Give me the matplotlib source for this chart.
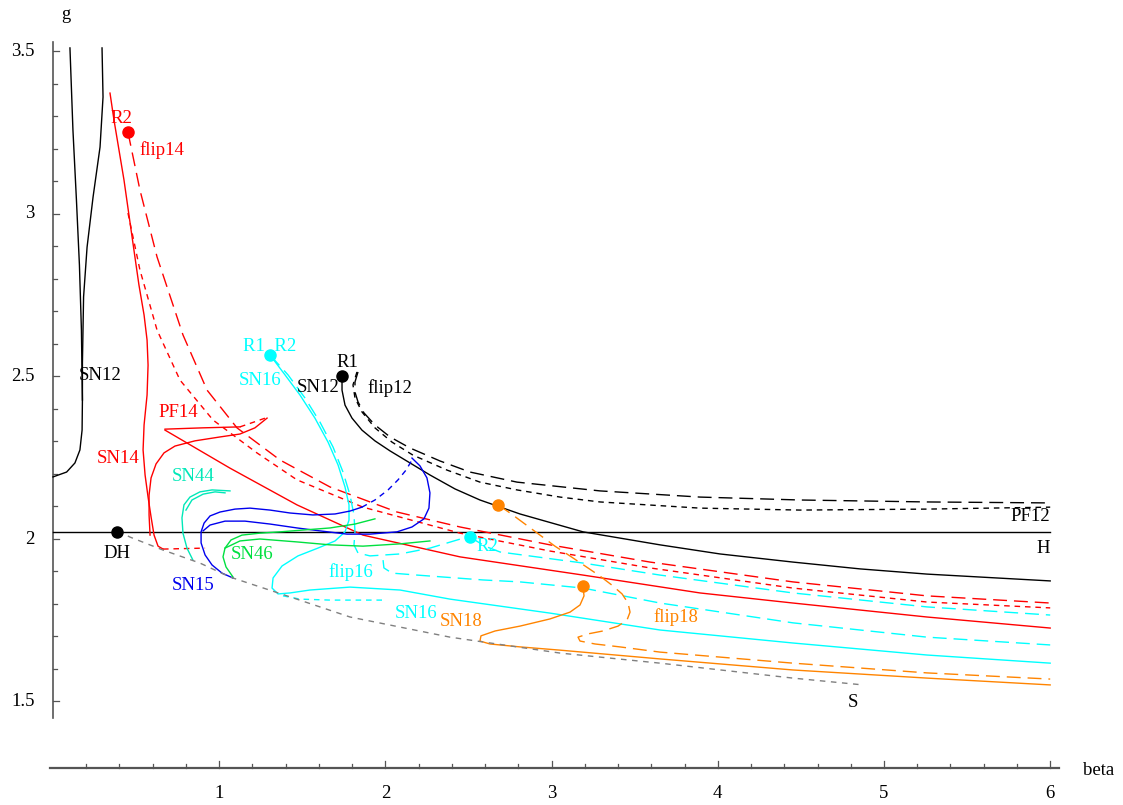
import matplotlib.pyplot as plt
import numpy as np

plt.rcParams['font.family'] = ['Liberation Serif', 'DejaVu Serif']

# Axis layout (beta horizontally, g vertically)
beta_ticks = [1, 2, 3, 4, 5, 6]
g_ticks = [1.5, 2.0, 2.5, 3.0, 3.5]
g_tick_labels = ["1.5", "2", "2.5", "3", "3.5"]
x_axis_level = 1.295
h_level = 2.02

# Bifurcation curves as (beta, g) pairs
sn12_left = [(0.102, 3.511), (0.120, 3.258), (0.141, 3.043), (0.159, 2.843),
             (0.171, 2.643), (0.177, 2.428), (0.175, 2.335), (0.162, 2.274),
             (0.132, 2.234), (0.082, 2.206), (0.0, 2.191)]
sn12_right = [(0.295, 3.511), (0.301, 3.360), (0.283, 3.206), (0.241, 3.052),
              (0.205, 2.898), (0.184, 2.745), (0.177, 2.542), (0.177, 2.428)]
sn12_r1 = [(1.739, 2.502), (1.739, 2.458), (1.757, 2.412), (1.799, 2.372),
           (1.859, 2.335), (1.937, 2.302), (2.028, 2.271), (2.148, 2.234),
           (2.268, 2.197), (2.419, 2.154), (2.569, 2.120), (2.810, 2.077),
           (3.189, 2.022), (3.652, 1.982), (4.013, 1.954), (4.452, 1.929),
           (4.856, 1.908), (5.259, 1.892), (6.0, 1.871)]
flip12 = [(1.835, 2.514), (1.817, 2.483), (1.817, 2.452), (1.835, 2.422),
          (1.871, 2.388), (1.937, 2.351), (2.028, 2.314), (2.148, 2.280),
          (2.329, 2.240), (2.509, 2.206), (2.792, 2.175), (3.291, 2.148),
          (3.893, 2.129), (4.495, 2.120), (5.259, 2.114), (6.0, 2.111)]
pf12 = [(1.829, 2.514), (1.805, 2.474), (1.817, 2.434), (1.859, 2.391),
        (1.937, 2.342), (2.040, 2.298), (2.166, 2.258), (2.371, 2.212),
        (2.569, 2.175), (2.792, 2.151), (3.051, 2.129), (3.291, 2.114),
        (3.893, 2.095), (4.495, 2.089), (5.259, 2.092), (6.0, 2.098)]

sn14 = [(0.343, 3.372), (0.367, 3.289), (0.397, 3.197), (0.427, 3.105),
        (0.457, 2.997), (0.487, 2.889), (0.517, 2.782), (0.548, 2.689),
        (0.566, 2.612), (0.572, 2.535), (0.566, 2.443), (0.548, 2.351),
        (0.542, 2.274), (0.554, 2.197), (0.572, 2.129), (0.590, 2.068),
        (0.608, 2.012), (0.632, 1.978), (0.662, 1.969)]
sn14_tail = [(0.662, 1.969), (0.915, 1.972)]
sn14_loop = [(0.584, 2.012), (0.578, 2.074), (0.578, 2.135), (0.590, 2.188),
             (0.620, 2.231), (0.668, 2.265), (0.734, 2.286), (0.854, 2.302),
             (1.005, 2.314), (1.125, 2.323), (1.215, 2.342), (1.288, 2.372)]
pf14_top = [(0.674, 2.338), (0.90, 2.342), (1.125, 2.345)]
pf14_top_tail = [(1.125, 2.345), (1.210, 2.360), (1.288, 2.374)]
pf14 = [(0.674, 2.335), (1.065, 2.218), (1.468, 2.105), (1.865, 2.012),
        (2.449, 1.945), (3.189, 1.889), (3.893, 1.834), (4.452, 1.803),
        (5.258, 1.760), (6.0, 1.726)]
flip14 = [(0.451, 3.252), (0.523, 3.074), (0.626, 2.868), (0.782, 2.628),
          (0.927, 2.458), (1.107, 2.342), (1.366, 2.243), (1.667, 2.160),
          (2.070, 2.083), (2.449, 2.037), (2.990, 1.982), (3.592, 1.929),
          (4.452, 1.868), (5.259, 1.825), (6.0, 1.803)]
pf14_b = [(0.451, 3.003), (0.523, 2.828), (0.626, 2.643), (0.764, 2.489),
          (0.963, 2.366), (1.227, 2.265), (1.468, 2.182), (1.865, 2.098),
          (2.449, 2.018), (2.990, 1.963), (3.592, 1.911), (4.452, 1.849),
          (5.259, 1.806), (6.0, 1.788)]

sn16 = [(1.306, 2.566), (1.396, 2.505), (1.486, 2.443), (1.576, 2.372),
        (1.655, 2.298), (1.715, 2.228), (1.757, 2.160), (1.781, 2.105),
        (1.781, 2.058), (1.757, 2.022), (1.697, 1.994), (1.594, 1.972),
        (1.474, 1.948), (1.378, 1.917), (1.324, 1.880), (1.318, 1.849),
        (1.354, 1.831), (1.426, 1.834), (1.546, 1.843), (1.787, 1.852),
        (2.088, 1.843), (2.389, 1.815), (2.990, 1.772), (3.652, 1.720),
        (4.452, 1.680), (5.259, 1.643), (6.0, 1.618)]
flip16 = [(1.306, 2.566), (1.414, 2.505), (1.516, 2.434), (1.606, 2.360),
          (1.685, 2.283), (1.745, 2.206), (1.787, 2.135), (1.811, 2.074),
          (1.817, 2.022), (1.811, 1.982), (1.835, 1.957), (1.907, 1.948),
          (2.088, 1.954), (2.268, 1.972), (2.491, 2.006)]
flip16_r2 = [(2.509, 2.006), (2.599, 1.978), (2.690, 1.960), (3.189, 1.926),
             (3.652, 1.889), (4.452, 1.834), (5.259, 1.791), (6.0, 1.766)]
flip16_low = [(1.986, 1.935), (1.991, 1.911), (2.040, 1.895), (2.190, 1.889),
              (2.587, 1.874), (2.810, 1.868), (3.189, 1.849), (3.652, 1.803),
              (4.452, 1.742), (5.259, 1.698), (6.0, 1.674)]
flip16_bottom = [(1.384, 1.825), (1.486, 1.815), (1.667, 1.812), (1.985, 1.812)]

sn15 = [(1.083, 1.880), (1.017, 1.895), (0.957, 1.920), (0.915, 1.951),
        (0.891, 1.988), (0.891, 2.022), (0.909, 2.049), (0.945, 2.071),
        (1.005, 2.083), (1.095, 2.092), (1.185, 2.095), (1.306, 2.089),
        (1.426, 2.080), (1.564, 2.074), (1.697, 2.077), (1.787, 2.086),
        (1.859, 2.098)]
sn15_dash = [(1.859, 2.098), (1.937, 2.120), (2.016, 2.151), (2.076, 2.182),
             (2.124, 2.212), (2.160, 2.243)]
sn15_low = [(2.160, 2.249), (2.208, 2.225), (2.250, 2.188), (2.268, 2.142),
            (2.262, 2.095), (2.232, 2.062), (2.160, 2.037), (2.070, 2.022),
            (1.907, 2.015), (1.769, 2.015), (1.606, 2.025), (1.468, 2.034),
            (1.306, 2.046), (1.155, 2.055), (1.035, 2.055), (0.945, 2.043),
            (0.903, 2.025)]

sn46 = [(1.083, 1.883), (1.041, 1.914), (1.023, 1.945), (1.035, 1.972),
        (1.071, 1.997), (1.137, 2.012), (1.245, 2.018), (1.366, 2.022),
        (1.516, 2.028), (1.667, 2.034), (1.817, 2.046), (1.937, 2.062)]
sn46_low = [(1.035, 1.972), (1.125, 1.994), (1.245, 2.000), (1.468, 1.991),
            (1.667, 1.982), (1.865, 1.978), (2.088, 1.985), (2.268, 1.994)]

sn44 = [(0.842, 1.935), (0.806, 1.972), (0.782, 2.018), (0.776, 2.065),
        (0.788, 2.105), (0.824, 2.129), (0.884, 2.145), (0.957, 2.151),
        (1.065, 2.148)]
sn44_b = [(0.800, 2.089), (0.836, 2.120), (0.903, 2.138), (0.975, 2.145),
          (1.035, 2.142)]

flip18 = [(2.678, 2.105), (2.750, 2.080), (2.840, 2.046), (2.930, 2.012),
          (3.020, 1.978), (3.110, 1.948), (3.201, 1.917), (3.291, 1.886),
          (3.363, 1.858), (3.424, 1.831), (3.460, 1.803), (3.472, 1.775),
          (3.454, 1.751), (3.400, 1.732), (3.309, 1.717), (3.219, 1.708),
          (3.159, 1.698), (3.171, 1.686), (3.261, 1.677), (3.411, 1.668),
          (3.652, 1.652), (4.452, 1.618), (5.259, 1.588), (6.0, 1.569)]
sn18 = [(3.189, 1.855), (3.195, 1.825), (3.171, 1.797), (3.111, 1.775),
        (2.990, 1.754), (2.810, 1.732), (2.660, 1.717), (2.575, 1.702),
        (2.569, 1.686), (2.629, 1.677), (2.810, 1.668), (3.051, 1.658),
        (3.652, 1.631), (4.452, 1.597), (5.259, 1.572), (6.0, 1.551)]

saddle = [(0.391, 2.025), (0.463, 2.006), (0.662, 1.966), (0.884, 1.926),
          (1.065, 1.883), (1.426, 1.822), (1.787, 1.760), (2.389, 1.698),
          (2.792, 1.668), (3.051, 1.649), (3.652, 1.618), (4.452, 1.572),
          (4.874, 1.551)]

# Codimension-two points
points_black = [(0.385, 2.022), (1.739, 2.502)]
points_red = [(0.451, 3.252)]
points_cyan = [(1.306, 2.566), (2.509, 2.006)]
points_orange = [(2.678, 2.105), (3.189, 1.855)]

RED, CYAN, BLUE = '#ff0000', '#00ffff', '#0000ee'
GREEN, TURQ, ORANGE, GRAY = '#00e040', '#00e8b8', '#ff8400', '#808080'
LONG = (0, (10, 5))
SHORT = (0, (4, 3.5))

fig = plt.figure(figsize=(11.23, 8.05), dpi=100)
ax = fig.add_axes([0, 0, 1, 1])
ax.set_xlim(-53 / 166.2, 1070 / 166.2)
ax.set_ylim(2 - 266 / 325, 2 + 539 / 325)
ax.axis('off')


def curve(pts, color, ls='-'):
    a = np.asarray(pts)
    ax.plot(a[:, 0], a[:, 1], color=color, lw=1.0, linestyle=ls,
            solid_joinstyle='round')


# axes drawn by hand: vertical g axis and a detached beta axis below
axc = '#555555'
ax.plot([0, 0], [1.45, 3.53], color=axc, lw=1.2)
ax.plot([-0.02, 6.05], [x_axis_level] * 2, color=axc, lw=1.6)
for g in np.arange(1.5, 3.501, 0.1):
    major = any(abs(g - t) < 1e-6 for t in g_ticks)
    ax.plot([0, 0.036 if major else 0.024], [g, g], color=axc, lw=0.9)
for b in np.arange(0.2, 6.001, 0.2):
    major = abs(b - round(b)) < 1e-6
    ax.plot([b, b], [x_axis_level, x_axis_level + (0.022 if major else 0.013)],
            color=axc, lw=0.9)
for b in beta_ticks:
    ax.text(b, 1.218, str(b), ha='center', va='center', fontsize=13.5)
for g, lab in zip(g_ticks, g_tick_labels):
    ax.text(-0.11, g, lab, ha='right', va='center', fontsize=13.5)
ax.text(0.078, 3.615, "g", ha='center', va='center', fontsize=13.5)
ax.text(6.20, 1.289, "beta", ha='left', va='center', fontsize=13.5)

# Hopf line
ax.plot([0, 6], [h_level, h_level], color='black', lw=1.0)

curve(sn12_left, 'black')
curve(sn12_right, 'black')
curve(sn12_r1, 'black')
curve(flip12, 'black', LONG)
curve(pf12, 'black', SHORT)

curve(sn14, RED)
curve(sn14_tail, RED, SHORT)
curve(sn14_loop, RED)
curve(pf14_top, RED)
curve(pf14_top_tail, RED, SHORT)
curve(pf14, RED)
curve(flip14, RED, LONG)
curve(pf14_b, RED, SHORT)

curve(sn16, CYAN)
curve(flip16, CYAN, LONG)
curve(flip16_r2, CYAN, LONG)
curve(flip16_low, CYAN, LONG)
curve(flip16_bottom, CYAN, SHORT)

curve(sn15, BLUE)
curve(sn15_dash, BLUE, SHORT)
curve(sn15_low, BLUE)

curve(sn46, GREEN)
curve(sn46_low, GREEN)
curve(sn44, TURQ)
curve(sn44_b, TURQ)

curve(flip18, ORANGE, LONG)
curve(sn18, ORANGE)

curve(saddle, GRAY, (0, (4, 4)))

for pts, c in [(points_black, 'black'), (points_red, RED),
               (points_cyan, CYAN), (points_orange, ORANGE)]:
    a = np.asarray(pts)
    ax.plot(a[:, 0], a[:, 1], 'o', color=c, ms=8, zorder=5)

labels = [
    ("R2", 0.409, 3.295, RED), ("flip14", 0.656, 3.197, RED),
    ("SN12", 0.283, 2.502, 'black'), ("R1  R2", 1.306, 2.591, CYAN),
    ("SN16", 1.245, 2.489, CYAN), ("R1", 1.769, 2.542, 'black'),
    ("SN12", 1.594, 2.465, 'black'), ("flip12", 2.028, 2.465, 'black'),
    ("PF14", 0.752, 2.388, RED), ("SN14", 0.391, 2.249, RED),
    ("SN44", 0.842, 2.191, TURQ), ("DH", 0.385, 1.954, 'black'),
    ("SN46", 1.197, 1.951, GREEN), ("SN15", 0.842, 1.858, BLUE),
    ("flip16", 1.793, 1.898, CYAN), ("R2", 2.611, 1.978, CYAN),
    ("SN16", 2.184, 1.772, CYAN), ("SN18", 2.455, 1.745, ORANGE),
    ("flip18", 3.748, 1.760, ORANGE), ("PF12", 5.878, 2.068, 'black'),
    ("H", 5.957, 1.972, 'black'), ("S", 4.813, 1.498, 'black'),
]
for txt, b, g, c in labels:
    ax.text(b, g, txt, color=c, ha='center', va='center', fontsize=13.5)

fig.savefig('out.png', dpi=100)
